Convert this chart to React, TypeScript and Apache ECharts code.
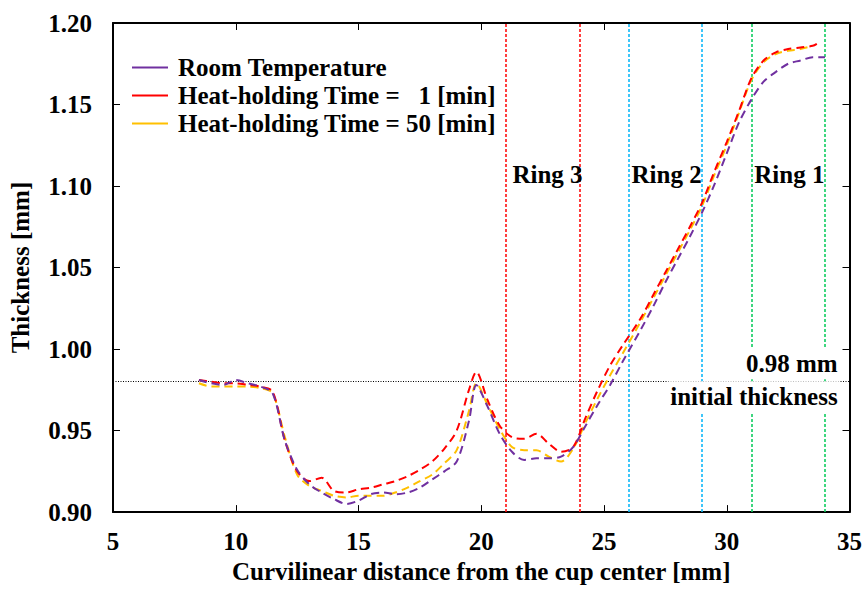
import React, { useEffect, useRef } from 'react';
import * as echarts from 'echarts';

// Curvilinear distance from the cup center [mm]
const distance = [
  8.5, 9, 9.5, 10, 10.5, 11, 11.5,
  12, 12.5, 13, 13.5, 14, 14.5, 15, 15.5, 16, 16.5, 17, 17.5, 18, 18.5, 19, 19.5,
  19.8,
  20.25, 20.75, 21.25, 21.75, 22.25, 22.75, 23.25, 23.75, 24.25, 24.75, 25.25, 25.75,
  26.5, 27, 27.5, 28, 28.5, 29, 29.5, 30, 30.5, 31, 31.5, 32, 32.5, 33, 33.5,
];
const distanceRoomTemp = [...distance, 34];
const distanceHold1 = [...distance, 33.75];
const distanceHold50 = distance;

const thicknessRoomTemp = [
  0.981, 0.979, 0.978, 0.981, 0.979, 0.977, 0.973,
  0.944, 0.926, 0.917, 0.912, 0.908, 0.905, 0.907, 0.911, 0.912, 0.911, 0.912, 0.915, 0.920, 0.925, 0.931, 0.956,
  0.978,
  0.965, 0.948, 0.937, 0.932, 0.933, 0.933, 0.934, 0.940, 0.953, 0.966, 0.978, 0.992,
  1.012, 1.026, 1.041, 1.055, 1.069, 1.084, 1.101, 1.120, 1.139, 1.153, 1.164, 1.170, 1.175, 1.177, 1.179,
  1.179,
];
const thicknessHold1 = [
  0.981, 0.980, 0.979, 0.979, 0.978, 0.977, 0.974,
  0.944, 0.925, 0.919, 0.921, 0.913, 0.912, 0.914, 0.915, 0.917, 0.919, 0.922, 0.926, 0.931, 0.939, 0.950, 0.975,
  0.986,
  0.969, 0.953, 0.946, 0.945, 0.948, 0.942, 0.937, 0.940, 0.958, 0.975, 0.990, 1.002,
  1.019, 1.033, 1.047, 1.061, 1.075, 1.090, 1.109, 1.127, 1.146, 1.166, 1.177, 1.182, 1.184, 1.185, 1.186,
  1.188,
];
const thicknessHold50 = [
  0.979, 0.977, 0.977, 0.977, 0.977, 0.976, 0.973,
  0.946, 0.923, 0.916, 0.913, 0.910, 0.909, 0.910, 0.910, 0.910, 0.912, 0.915, 0.919, 0.923, 0.930, 0.938, 0.962,
  0.979,
  0.966, 0.951, 0.940, 0.938, 0.938, 0.934, 0.931, 0.939, 0.955, 0.970, 0.984, 0.997,
  1.017, 1.031, 1.045, 1.059, 1.073, 1.088, 1.107, 1.125, 1.145, 1.165, 1.176, 1.181, 1.183, 1.184, 1.186,
];

const seriesNames = [
  'Room Temperature',
  'Heat-holding Time =   1 [min]',
  'Heat-holding Time = 50 [min]',
];
const seriesColors = ['#7030a0', '#ff0000', '#ffc000'];

// Ring boundaries [mm]
const ringBoundaries = [21, 24, 26, 29, 31, 34];
const ringBoundaryColors = ['#ff1010', '#ff1010', '#10b8f8', '#10b8f8', '#10cc60', '#10cc60'];
const ringLabels = ['Ring 3', 'Ring 2', 'Ring 1'];
const ringLabelX = [22.7, 27.55, 32.55];
const ringLabelY = 1.107;

const initialThickness = 0.98;

const xTicks = { min: 5, max: 35, interval: 5 };
const yTicks = { min: 0.9, max: 1.2, interval: 0.05 };

const FONT = '"Liberation Serif", "Times New Roman", serif';
const FS = 25;

function pairs(xs: number[], ys: number[]) {
  return xs.map((x, i) => [x, ys[i]]);
}

export default function App() {
  const ref = useRef<HTMLDivElement>(null);
  useEffect(() => {
    if (!ref.current) return;
    const chart = echarts.init(ref.current, undefined, { renderer: 'svg' });
    const axisCommon = {
      type: 'value' as const,
      splitLine: { show: false },
      axisLine: { show: true, onZero: false, lineStyle: { color: '#000', width: 2 } },
      axisTick: { show: true, inside: true, length: 7, lineStyle: { color: '#000', width: 1 } },
    };
    const lineSeries = [
      [distanceRoomTemp, thicknessRoomTemp],
      [distanceHold1, thicknessHold1],
      [distanceHold50, thicknessHold50],
    ].map(([xs, ys], i) => ({
      name: seriesNames[i],
      type: 'line' as const,
      data: pairs(xs, ys),
      symbol: 'none',
      smooth: 0.3,
      color: seriesColors[i],
      itemStyle: { color: seriesColors[i] },
      lineStyle: { color: seriesColors[i], width: 2, type: [8, 5] },
      z: 5 + (2 - i),
    }));
    chart.setOption({
      animation: false,
      textStyle: { fontFamily: FONT },
      grid: { left: 113, right: 14, top: 23, bottom: 74, containLabel: false },
      legend: {
        data: seriesNames,
        orient: 'vertical',
        left: 127,
        top: 50,
        icon: 'rect',
        itemWidth: 36,
        itemHeight: 2,
        itemGap: 3,
        textStyle: {
          fontFamily: FONT,
          fontWeight: 'bold',
          fontSize: FS,
          lineHeight: 25,
          color: '#000',
          padding: [0, 0, 0, 5],
        },
      },
      xAxis: [
        {
          ...axisCommon,
          ...xTicks,
          position: 'bottom',
          name: 'Curvilinear distance from the cup center [mm]',
          nameLocation: 'middle',
          nameGap: 45,
          nameTextStyle: { fontFamily: FONT, fontWeight: 'bold', fontSize: FS, color: '#000' },
          axisLabel: { fontFamily: FONT, fontWeight: 'bold', fontSize: FS, color: '#000', margin: 17 },
        },
        {
          ...axisCommon,
          ...xTicks,
          position: 'top',
          axisLabel: { show: false },
        },
      ],
      yAxis: [
        {
          ...axisCommon,
          ...yTicks,
          position: 'left',
          name: 'Thickness [mm]',
          nameLocation: 'middle',
          nameGap: 80,
          nameTextStyle: { fontFamily: FONT, fontWeight: 'bold', fontSize: FS, color: '#000' },
          axisLabel: {
            fontFamily: FONT,
            fontWeight: 'bold',
            fontSize: FS,
            color: '#000',
            margin: 21,
            formatter: (v: number) => v.toFixed(2),
          },
        },
        {
          ...axisCommon,
          ...yTicks,
          position: 'right',
          axisLabel: { show: false },
        },
      ],
      series: [
        {
          name: 'guides',
          type: 'line',
          data: [],
          silent: true,
          z: 2,
          markLine: {
            silent: true,
            symbol: 'none',
            label: { show: false },
            animation: false,
            data: [
              ...ringBoundaries.map((x, i) => ({
                xAxis: x,
                lineStyle: { color: ringBoundaryColors[i], width: 1.6, type: [3, 2] },
              })),
              {
                yAxis: initialThickness,
                lineStyle: { color: '#000', width: 1, type: [1, 1.5] },
              },
            ],
          },
        },
        ...lineSeries,
      ],
    });

    const toPx = (x: number, y: number) =>
      chart.convertToPixel({ xAxisIndex: 0, yAxisIndex: 0 }, [x, y]) as number[];
    const textFont = `bold ${FS}px ${FONT}`;
    const graphics: any[] = ringLabels.map((t, i) => {
      const [px, py] = toPx(ringLabelX[i], ringLabelY);
      return {
        type: 'text',
        x: px,
        y: py,
        z: 20,
        style: { text: t, font: textFont, fill: '#000', align: 'center', verticalAlign: 'middle' },
      };
    });
    const [ax, ay] = toPx(34.6, 0.991);
    const [bx, by] = toPx(34.6, 0.9708);
    graphics.push({
      type: 'text',
      x: ax,
      y: ay,
      z: 20,
      style: {
        text: '0.98 mm',
        font: textFont,
        fill: '#000',
        align: 'right',
        verticalAlign: 'middle',
        backgroundColor: '#fff',
        padding: [3, 2, 3, 2],
      },
    });
    graphics.push({
      type: 'text',
      x: bx,
      y: by,
      z: 20,
      style: {
        text: 'initial thickness',
        font: textFont,
        fill: '#000',
        align: 'right',
        verticalAlign: 'middle',
        backgroundColor: '#fff',
        padding: [3, 2, 3, 2],
      },
    });
    chart.setOption({ graphic: graphics });

    return () => chart.dispose();
  }, []);
  return (
    <div
      ref={ref}
      style={{ position: 'fixed', left: 0, top: 0, width: 865, height: 589, background: '#fff' }}
    />
  );
}
